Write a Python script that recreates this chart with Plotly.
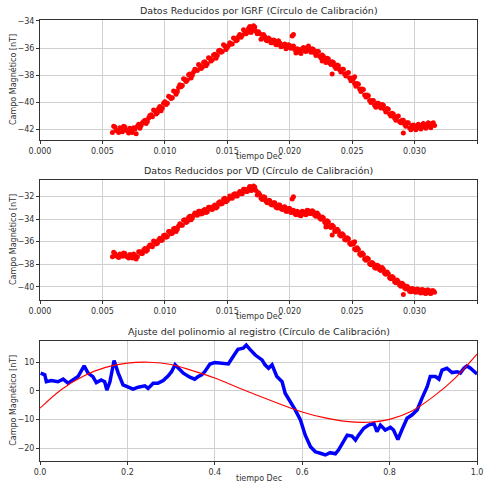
import plotly.graph_objects as go
from plotly.subplots import make_subplots

# ---------------- data ----------------
t_dec_a = [round(0.0058 + 0.0002 * i, 4) for i in range(130)]
t_dec_b = [round(0.0059 + 0.0002 * i, 4) for i in range(129)]

igrf_a = [
    -42.2, -41.8, -42.1, -41.85, -42.15, -41.8, -42.1, -41.9, -42.2, -41.95,
    -41.75, -41.9, -41.5, -41.3, -41.4, -40.95, -41.05, -40.6, -40.75, -40.3,
    -40.4, -39.95, -40.05, -39.6, -39.65, -39.2, -39.2, -38.7, -38.75, -38.3,
    -38.35, -37.9, -38.0, -37.55, -37.65, -37.3, -37.4, -37.0, -37.15, -36.75,
    -36.85, -36.45, -36.55, -36.15, -36.25, -35.85, -35.95, -35.6, -35.7, -35.3,
    -35.4, -35.0, -35.05, -34.75, -34.85, -34.55, -34.7, -34.45, -34.95, -34.95,
    -35.25, -35.15, -35.45, -35.35, -35.6, -35.45, -35.75, -35.6, -35.85, -35.7,
    -35.95, -35.8, -35.1, -36.1, -36.05, -36.3, -36.05, -36.2, -35.95, -36.15,
    -36.05, -36.35, -36.25, -36.6, -36.5, -36.85, -36.75, -37.1, -37.0, -37.35,
    -37.25, -37.6, -37.55, -37.9, -37.85, -38.2, -38.2, -38.6, -38.6, -39.0,
    -39.0, -39.45, -39.45, -39.85, -39.85, -40.2, -40.05, -40.3, -40.15, -40.5,
    -40.45, -40.85, -40.8, -41.15, -41.05, -41.4, -41.3, -41.6, -41.5, -41.85,
    -41.7, -41.9, -41.7, -41.85, -41.65, -41.8, -41.6, -41.75, -41.55, -41.7,
]
igrf_b = [
    -41.75, -42.05, -42.2, -41.95, -41.75, -42.0, -42.25, -42.05, -41.85, -42.3,
    -41.6, -41.7, -41.4, -41.55, -41.15, -40.9, -40.55, -40.85, -40.45, -40.6,
    -40.05, -40.15, -39.55, -39.7, -39.15, -39.4, -38.9, -38.85, -38.25, -38.45,
    -37.95, -38.2, -37.75, -37.6, -37.2, -37.5, -37.05, -37.3, -36.7, -36.95,
    -36.5, -36.75, -36.2, -36.3, -35.75, -36.1, -35.8, -35.7, -35.25, -35.45,
    -35.15, -35.2, -34.65, -34.95, -34.55, -34.85, -34.35, -34.75, -34.8, -35.35,
    -35.0, -35.4, -35.25, -35.6, -35.4, -35.75, -35.45, -35.9, -35.75, -36.05,
    -35.75, -36.0, -35.85, -36.35, -36.1, -36.4, -35.95, -36.25, -35.85, -36.3,
    -36.1, -36.55, -36.25, -36.7, -36.6, -37.05, -36.8, -37.2, -37.05, -37.5,
    -37.3, -37.75, -37.55, -38.05, -37.8, -38.4, -38.25, -38.8, -38.65, -39.2,
    -39.05, -39.6, -39.5, -40.0, -39.85, -40.35, -40.05, -40.4, -40.2, -40.7,
    -40.5, -41.0, -40.85, -41.3, -41.0, -41.5, -41.3, -41.75, -41.5, -42.0,
    -41.65, -42.0, -41.6, -41.95, -41.55, -41.9, -41.5, -41.85, -41.5,
]
igrf_out_t = [0.0168, 0.0203, 0.0226, 0.0234, 0.0252, 0.0291]
igrf_out_v = [-34.4, -35.0, -36.95, -37.9, -38.1, -42.25]

vd_a = [
    -37.35, -37.05, -37.3, -37.1, -37.3, -37.05, -37.35, -37.15, -37.45, -37.2,
    -37.35, -36.9, -37.05, -36.6, -36.75, -36.3, -36.45, -36.0, -36.15, -35.7,
    -35.85, -35.4, -35.55, -35.1, -35.25, -34.8, -34.9, -34.4, -34.55, -34.05,
    -34.2, -33.75, -33.9, -33.45, -33.65, -33.3, -33.5, -33.15, -33.35, -32.95,
    -33.15, -32.75, -32.9, -32.45, -32.6, -32.15, -32.35, -31.95, -32.15, -31.75,
    -31.95, -31.55, -31.75, -31.35, -31.55, -31.15, -31.4, -31.15, -31.85, -31.8,
    -32.25, -32.05, -32.55, -32.35, -32.75, -32.55, -33.0, -32.75, -33.15, -32.9,
    -33.3, -33.05, -32.2, -33.5, -33.3, -33.65, -33.3, -33.55, -33.2, -33.5,
    -33.25, -33.65, -33.45, -33.9, -33.8, -34.25, -34.15, -34.65, -34.55, -35.05,
    -34.9, -35.4, -35.3, -35.8, -35.65, -36.15, -36.1, -36.65, -36.55, -37.1,
    -37.0, -37.55, -37.45, -37.95, -37.85, -38.3, -38.1, -38.5, -38.3, -38.8,
    -38.7, -39.2, -39.1, -39.55, -39.4, -39.85, -39.7, -40.1, -39.95, -40.4,
    -40.15, -40.45, -40.2, -40.5, -40.25, -40.55, -40.3, -40.55, -40.35, -40.5,
]
vd_b = [
    -36.95, -37.25, -37.4, -37.2, -37.0, -37.3, -37.45, -37.25, -37.1, -37.55,
    -36.9, -37.05, -36.75, -36.85, -36.45, -36.3, -35.95, -36.2, -35.85, -35.9,
    -35.45, -35.6, -35.1, -35.3, -34.85, -35.1, -34.6, -34.55, -34.1, -34.3,
    -33.85, -34.05, -33.65, -33.6, -33.3, -33.55, -33.2, -33.4, -32.95, -33.1,
    -32.85, -33.0, -32.55, -32.65, -32.2, -32.45, -32.2, -32.1, -31.8, -31.95,
    -31.7, -31.75, -31.35, -31.55, -31.3, -31.45, -31.05, -31.45, -31.65, -32.15,
    -32.0, -32.4, -32.35, -32.7, -32.55, -32.95, -32.75, -33.05, -32.95, -33.3,
    -33.05, -33.4, -33.2, -33.6, -33.4, -33.7, -33.35, -33.6, -33.25, -33.5,
    -33.35, -33.75, -33.6, -34.0, -33.9, -34.4, -34.25, -34.75, -34.65, -35.1,
    -35.05, -35.5, -35.4, -35.85, -35.75, -36.25, -36.2, -36.75, -36.7, -37.2,
    -37.15, -37.65, -37.55, -38.05, -37.95, -38.35, -38.15, -38.55, -38.45, -38.9,
    -38.85, -39.3, -39.2, -39.65, -39.55, -39.95, -39.8, -40.2, -40.1, -40.45,
    -40.2, -40.5, -40.25, -40.55, -40.3, -40.6, -40.3, -40.6, -40.35,
]
vd_out_t = [0.0168, 0.0203, 0.0229, 0.0234, 0.0252, 0.0291]
vd_out_v = [-31.1, -32.0, -34.7, -35.4, -36.0, -40.7]

reg_x = [0.0015, 0.011, 0.0145, 0.026, 0.041, 0.053, 0.064, 0.076, 0.087, 0.101,
         0.110, 0.121, 0.129, 0.140, 0.148, 0.153, 0.160, 0.1695, 0.179, 0.190,
         0.2016, 0.213, 0.2245, 0.240, 0.2474, 0.259, 0.270, 0.282, 0.293, 0.301,
         0.309, 0.316, 0.328, 0.343, 0.354, 0.362, 0.370, 0.377, 0.389, 0.400,
         0.415, 0.431, 0.442, 0.453, 0.465, 0.472, 0.481, 0.4926, 0.508, 0.515,
         0.523, 0.531, 0.542, 0.554, 0.561, 0.573, 0.584, 0.596, 0.607, 0.619,
         0.630, 0.6415, 0.653, 0.664, 0.676, 0.683, 0.695, 0.703, 0.714, 0.722,
         0.729, 0.741, 0.752, 0.764, 0.771, 0.779, 0.790, 0.802, 0.809, 0.819,
         0.828, 0.840, 0.851, 0.863, 0.874, 0.886, 0.893, 0.905, 0.913, 0.920,
         0.931, 0.943, 0.955, 0.962, 0.970, 0.977, 0.985, 0.993, 1.0]
reg_y = [6.2, 5.6, 3.2, 3.6, 3.2, 4.1, 2.7, 3.8, 5.0, 8.7,
         6.2, 5.0, 2.9, 3.8, 3.2, 0.3, 3.2, 10.6, 6.2, 2.1,
         1.5, 0.6, 1.3, 1.8, 0.9, 2.7, 2.7, 3.6, 5.2, 6.7,
         9.1, 7.9, 6.2, 4.8, 4.1, 5.0, 5.6, 6.7, 9.4, 9.9,
         9.6, 9.4, 12.0, 14.5, 14.9, 16.0, 14.4, 12.5, 10.8, 9.1,
         7.9, 9.1, 5.0, 3.2, -0.8, -3.7, -6.6, -10.1, -15.4, -19.4,
         -21.2, -21.7, -22.3, -21.5, -21.9, -20.6, -17.1, -15.4, -15.7, -17.1,
         -15.4, -13.0, -11.9, -11.3, -14.2, -11.9, -13.6, -12.7, -13.6, -16.9,
         -13.6, -9.5, -8.4, -6.6, -2.6, 1.5, 5.0, 5.0, 4.1, 7.3,
         7.9, 6.4, 6.7, 6.2, 7.9, 8.7, 7.9, 6.7, 5.9]

fit_x = [0.0, 0.05, 0.1, 0.15, 0.2, 0.25, 0.3, 0.35, 0.4, 0.45, 0.5,
         0.55, 0.6, 0.65, 0.7, 0.75, 0.8, 0.85, 0.9, 0.95, 1.0]
fit_y = [-6.0, 0.6, 5.2, 8.2, 9.7, 10.0, 9.2, 7.0, 4.5, 1.4, -1.7,
         -4.6, -7.3, -9.3, -10.6, -10.9, -9.9, -7.1, -2.0, 4.5, 12.8]

titles = ["Datos Reducidos por IGRF (Círculo de Calibración)",
          "Datos Reducidos por VD (Círculo de Calibración)",
          "Ajuste del polinomio al registro (Círculo de Calibración)"]
xlabel = "tiempo Dec"
ylabel = "Campo Magnético [nT]"

# ---------------- figure ----------------
FONT = "DejaVu Sans"
fig = make_subplots(rows=3, cols=1)

mk = dict(color="#ff0000", size=5, line=dict(width=0))
for tx, vy, r in [(t_dec_a, igrf_a, 1), (t_dec_b, igrf_b, 1), (igrf_out_t, igrf_out_v, 1),
                  (t_dec_a, vd_a, 2), (t_dec_b, vd_b, 2), (vd_out_t, vd_out_v, 2)]:
    fig.add_trace(go.Scatter(x=tx, y=vy, mode="markers", marker=mk), row=r, col=1)

fig.add_trace(go.Scatter(x=reg_x, y=reg_y, mode="lines",
                         line=dict(color="#0000ff", width=3.5)),
              row=3, col=1)
fig.add_trace(go.Scatter(x=fit_x, y=fit_y, mode="lines", line_shape="spline",
                         line=dict(color="#ff0000", width=1.1)),
              row=3, col=1)

domains = [(0.7279, 1.0), (0.3651, 0.6372), (0.0, 0.2728)]
axis_common = dict(showline=True, mirror=True, linecolor="#333333", linewidth=1,
                   showgrid=True, gridcolor="#d0d0d0", gridwidth=1,
                   ticks="outside", ticklen=3, tickcolor="#333333",
                   tickfont=dict(family=FONT, size=8, color="#333333"),
                   zeroline=False, automargin=False)

fig.update_layout(
    width=486, height=485,
    margin=dict(l=40, r=9, t=20, b=24),
    paper_bgcolor="white", plot_bgcolor="white",
    showlegend=False,
    font=dict(family=FONT, color="#333333"),
)

xt1 = [0, 0.005, 0.01, 0.015, 0.02, 0.025, 0.03, 0.035]
fig.update_layout(
    xaxis=dict(domain=[0, 1], range=[0, 0.035], tickvals=xt1, tickformat=".3f", **axis_common),
    yaxis=dict(domain=list(domains[0]), range=[-42.76, -33.93], tickvals=[-42, -40, -38, -36, -34],
               **axis_common),
    xaxis2=dict(domain=[0, 1], range=[0, 0.035], tickvals=xt1, tickformat=".3f", **axis_common),
    yaxis2=dict(domain=list(domains[1]), range=[-41.18, -30.52], tickvals=[-40, -38, -36, -34, -32],
                **axis_common),
    xaxis3=dict(domain=[0, 1], range=[0, 1], tickvals=[0, 0.2, 0.4, 0.6, 0.8, 1.0],
                tickformat=".1f", **axis_common),
    yaxis3=dict(domain=list(domains[2]), range=[-24.4, 17.5], tickvals=[-20, -10, 0, 10],
                **axis_common),
)

for k, (lo, hi) in enumerate(domains):
    fig.add_annotation(text=titles[k], xref="paper", yref="paper", x=0.5, y=hi,
                       yshift=2, yanchor="bottom", xanchor="center", showarrow=False,
                       font=dict(family=FONT, size=9.5, color="#2a2a2a"))
    fig.add_annotation(text=xlabel, xref="paper", yref="paper", x=0.5, y=lo,
                       yshift=-17, yanchor="middle", xanchor="center", showarrow=False,
                       font=dict(family=FONT, size=8, color="#333333"))
    fig.add_annotation(text=ylabel, xref="paper", yref="paper", x=0, xshift=-20,
                       y=(lo + hi) / 2, textangle=-90, xanchor="right", yanchor="middle",
                       showarrow=False, font=dict(family=FONT, size=8, color="#333333"))

fig.write_html("out.html")
